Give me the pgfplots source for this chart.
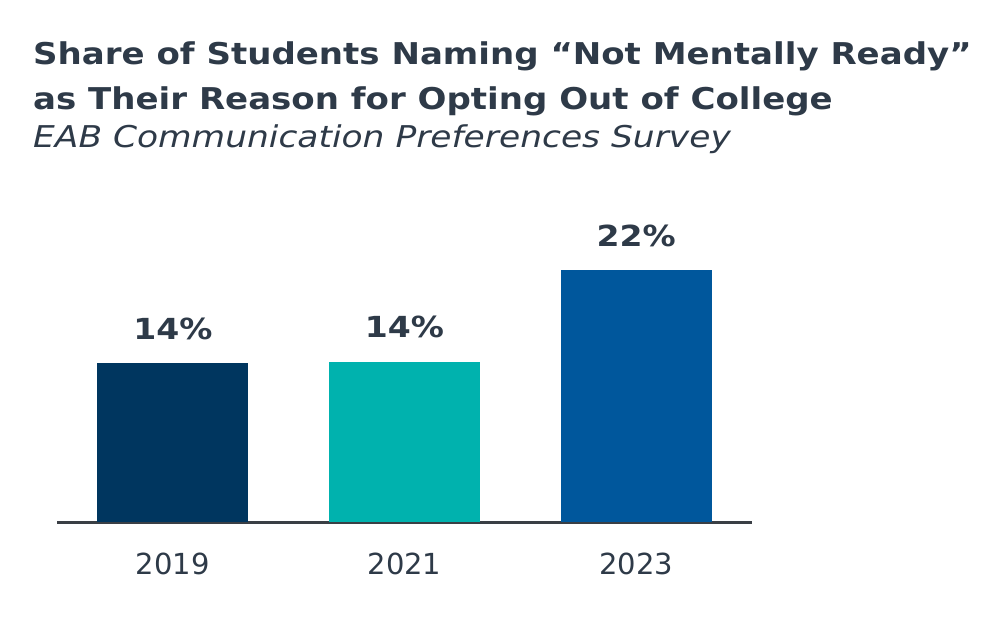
\documentclass[border=0pt]{standalone}
\usepackage{fontspec}
\setmainfont{DejaVu Sans}
\newfontfamily\titlefont{DejaVu Sans}[FakeStretch=1.134]
\newfontfamily\subfont{DejaVu Sans}[FakeStretch=1.148]
\newfontfamily\labfont{DejaVu Sans}[FakeStretch=1.14]
\usepackage{pgfplots}
\pgfplotsset{compat=1.18}
\definecolor{txt}{HTML}{2E3A48}
\definecolor{axisc}{HTML}{3A3F45}
\definecolor{cA}{HTML}{00365F}
\definecolor{cB}{HTML}{00B2AE}
\definecolor{cC}{HTML}{00579C}
\begin{document}
\begin{tikzpicture}[x=1bp,y=1bp]
\path[use as bounding box,fill=white] (0,0) rectangle (1001,621);
\node[anchor=base west,inner sep=0,text=txt,font=\titlefont\fontsize{30bp}{45bp}\selectfont\bfseries] at (33,556) {Share of Students Naming “Not Mentally Ready”};
\node[anchor=base west,inner sep=0,text=txt,font=\titlefont\fontsize{30bp}{45bp}\selectfont\bfseries] at (33,511) {as Their Reason for Opting Out of College};
\node[anchor=base west,inner sep=0,text=txt,font=\subfont\fontsize{30bp}{40bp}\selectfont\itshape] at (33,473) {EAB Communication Preferences Survey};
\begin{axis}[
  at={(57bp,98.5bp)}, anchor=south west,
  scale only axis, width=695bp, height=286.75bp,
  xmin=-0.5, xmax=2.5, ymin=0, ymax=25,
  axis x line=bottom, axis y line=none,
  axis line style={-, draw=axisc, line width=2.2bp},
  xtick={0,1,2}, xticklabels={2019,2021,2023},
  major tick length=0pt,
  xticklabel style={anchor=base, yshift=-52.5bp, text=txt, font=\fontsize{29bp}{35bp}\selectfont},
  ybar, bar width=0.652, bar shift=0pt,
  clip=false,
  /pgf/number format/assume math mode=true,
  nodes near coords={\pgfmathprintnumber[fixed,precision=0,assume math mode=true]{\pgfplotspointmeta}\%},
  every node near coord/.append style={anchor=base, yshift=24bp, inner sep=0, text=txt, font=\labfont\fontsize{29bp}{35bp}\selectfont\bfseries},
]
\addplot[draw=none, fill=cA] coordinates {(0,13.9)};
\addplot[draw=none, fill=cB] coordinates {(1,14.0)};
\addplot[draw=none, fill=cC] coordinates {(2,22.0)};
\end{axis}
\end{tikzpicture}
\end{document}
